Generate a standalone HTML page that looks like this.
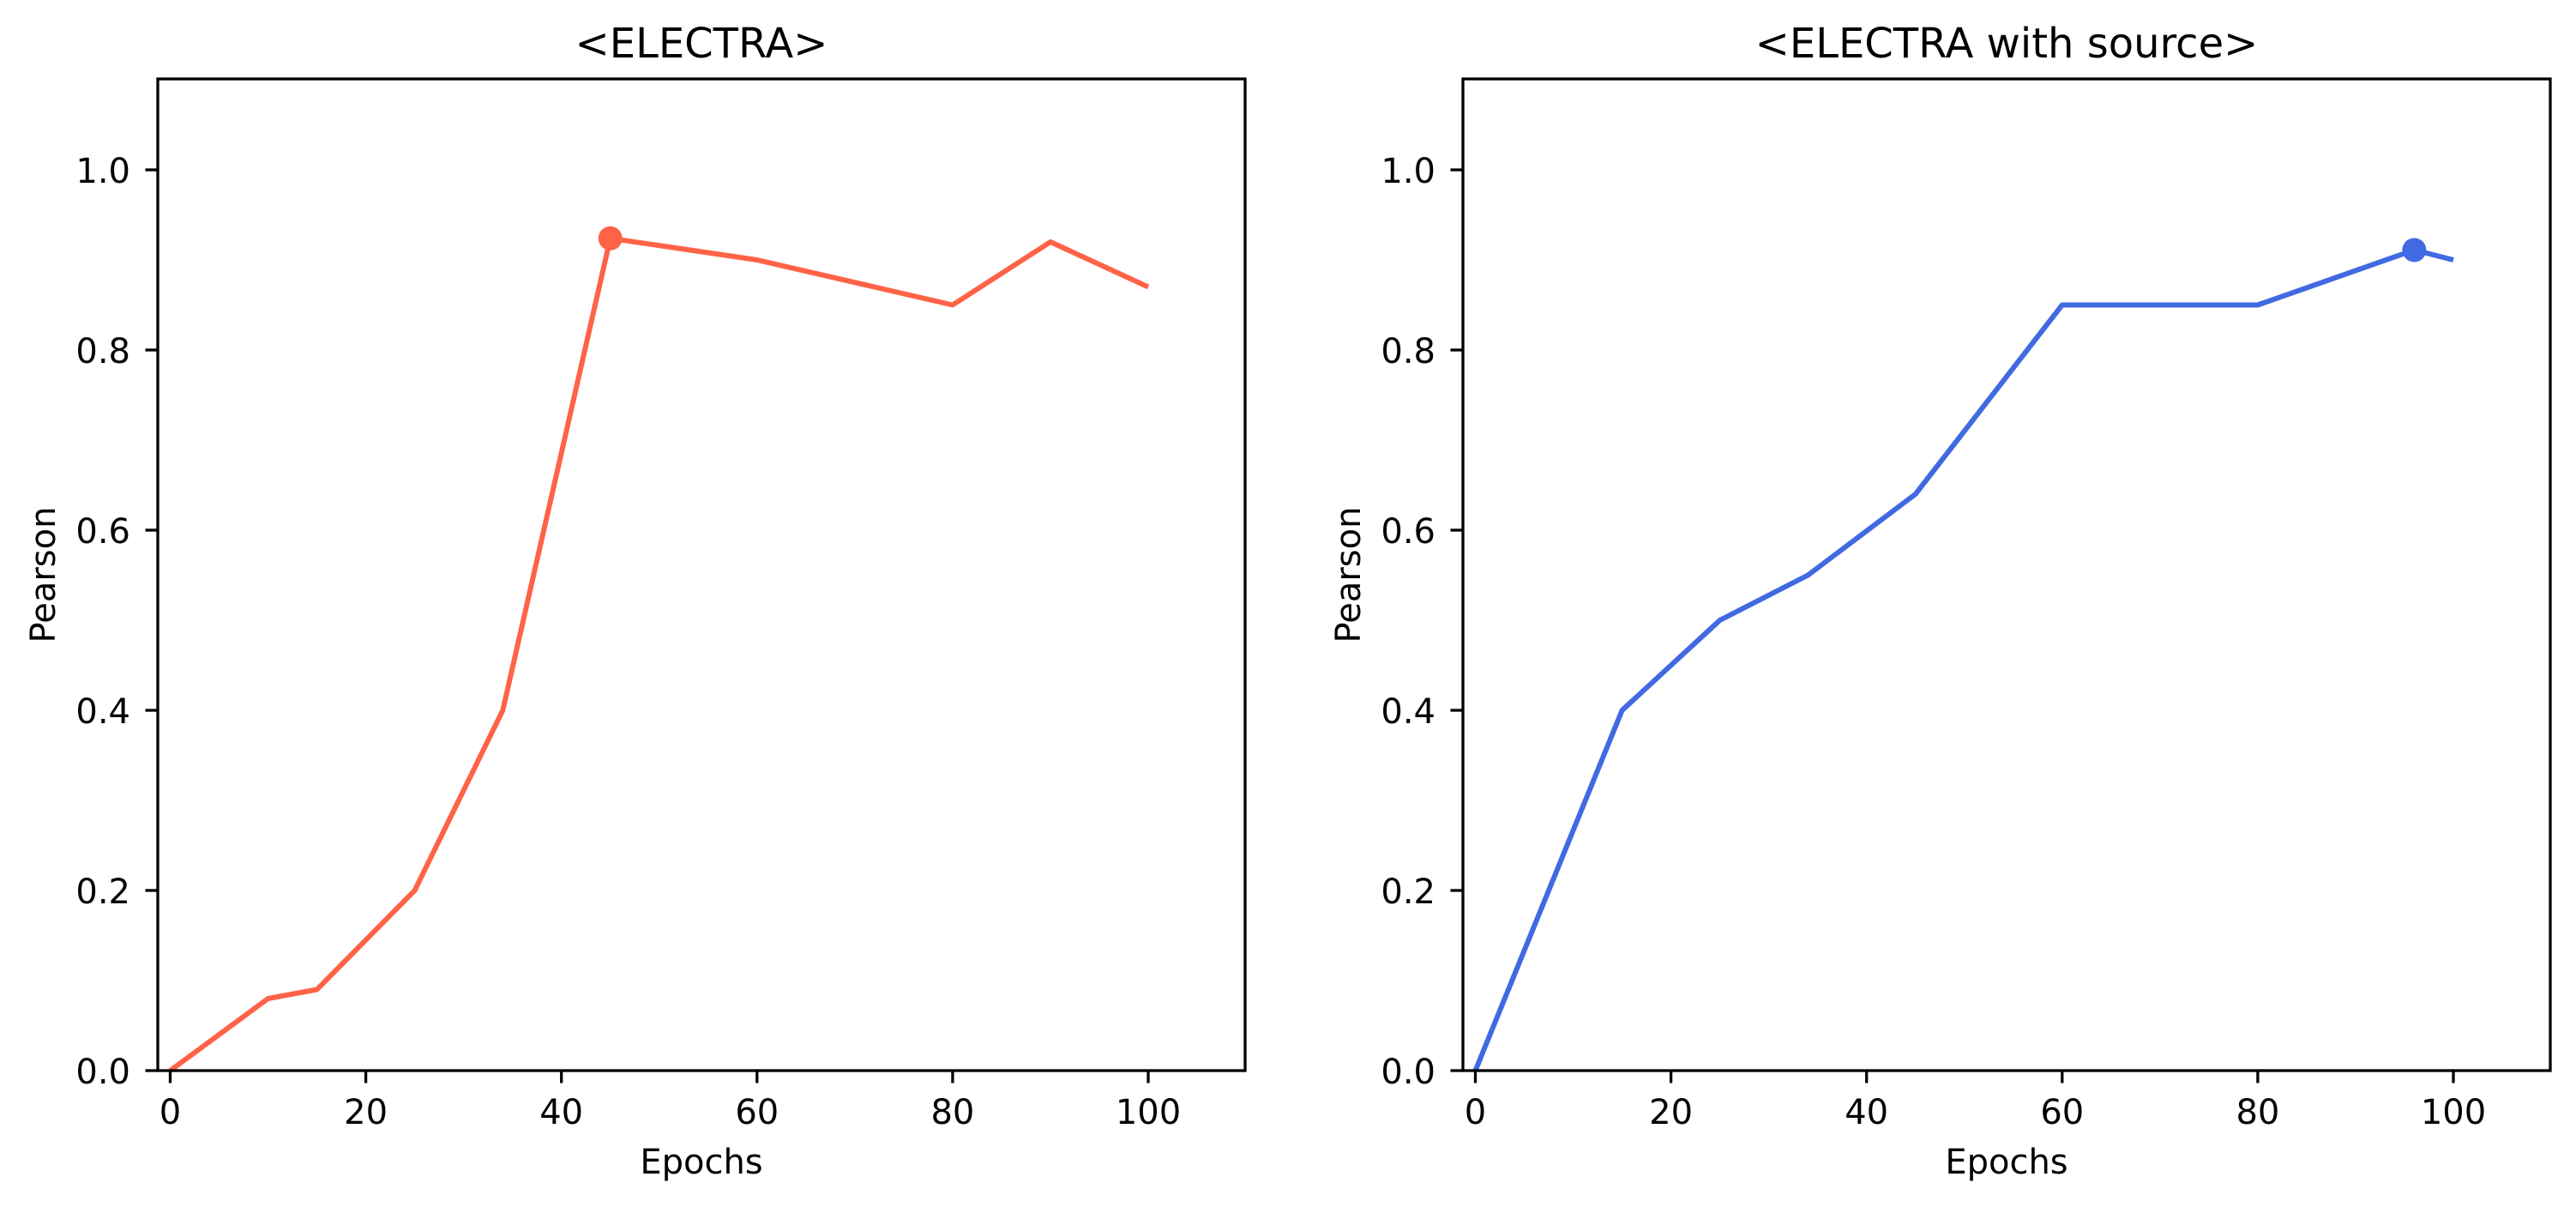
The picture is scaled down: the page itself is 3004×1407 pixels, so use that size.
<!DOCTYPE html>
<html><head><meta charset="utf-8"><style>
html,body{margin:0;padding:0;background:#fff;}
svg{display:block;font-family:"DejaVu Sans","Liberation Sans",sans-serif;}
</style></head><body>
<svg id="fig" width="3004" height="1407" viewBox="0 0 3004 1407" xmlns="http://www.w3.org/2000/svg"></svg>
<script>
const leftEpochs=[0,10,15,25,34,45,60,80,90,100];
const leftPearson=[0,0.08,0.09,0.2,0.4,0.924,0.9,0.85,0.92,0.87];
const leftBestIndex=5;
const rightEpochs=[0,15,25,34,45,60,80,96,100];
const rightPearson=[0,0.4,0.5,0.55,0.64,0.85,0.85,0.911,0.90];
const rightBestIndex=7;
const xTicks=[0,20,40,60,80,100];
const yTicks=[0,0.2,0.4,0.6,0.8,1.0];
const yTickLabels=["0.0","0.2","0.4","0.6","0.8","1.0"];
const titles=["<ELECTRA>","<ELECTRA with source>"];

const NS="http://www.w3.org/2000/svg";
const svg=document.getElementById('fig');
function mk(tag,attrs,parent){const e=document.createElementNS(NS,tag);for(const k in attrs)e.setAttribute(k,attrs[k]);(parent||svg).appendChild(e);return e;}

function panel(idx,left,xs,ys,best,color){
  const top=92,bottom=1248,w=1268;
  const right=left+w;
  const x0=left+14.5, ux=11.405;
  const X=v=>x0+ux*v;
  const Y=v=>bottom-1050*v;
  const g=mk('g',{});
  
  
  let d=xs.map((v,i)=>(i?'L':'M')+X(v).toFixed(1)+' '+Y(ys[i]).toFixed(1)).join(' ');
  const p=mk('path',{d:d,fill:'none',stroke:color,'stroke-width':6,'stroke-linejoin':'round','stroke-linecap':'butt'},g);
  
  
  const m=mk('circle',{cx:X(xs[best]),cy:Y(ys[best]),r:14,fill:color},g);
  
  
  const f=mk('rect',{x:left,y:top,width:w,height:bottom-top,fill:'none',stroke:'#000','stroke-width':3.3},g);
  
  
  xTicks.forEach(v=>{
    const t=mk('line',{x1:X(v),x2:X(v),y1:bottom,y2:bottom+14.5,stroke:'#000','stroke-width':3.3},g);
    
    
    const l=mk('text',{x:X(v),y:1310,'font-size':40,'text-anchor':'middle',fill:'#000'},g);
    l.textContent=String(v);
    
    
  });
  yTicks.forEach((v,i)=>{
    const t=mk('line',{x1:left-14.5,x2:left,y1:Y(v),y2:Y(v),stroke:'#000','stroke-width':3.3},g);
    
    
    const l=mk('text',{x:left-32,y:Y(v)+15,'font-size':40,'text-anchor':'end',fill:'#000'},g);
    l.textContent=yTickLabels[i];
    
    
  });
  const xl=mk('text',{x:(left+right)/2,y:1368,'font-size':40,'text-anchor':'middle',fill:'#000'},g);
  xl.textContent='Epochs';
  
  
  const yx=left-120, yy=(top+bottom)/2;
  const yl=mk('text',{x:yx,y:yy,'font-size':40,'text-anchor':'middle',fill:'#000',transform:`rotate(-90 ${yx} ${yy})`},g);
  yl.textContent='Pearson';
  
  
  const tt=mk('text',{x:(left+right)/2,y:67,'font-size':48,'text-anchor':'middle',fill:'#000'},g);
  tt.textContent=titles[idx];
  
  
}
panel(0,184,leftEpochs,leftPearson,leftBestIndex,'#ff6347');
panel(1,1706,rightEpochs,rightPearson,rightBestIndex,'#4169e1');
</script>
</body></html>
